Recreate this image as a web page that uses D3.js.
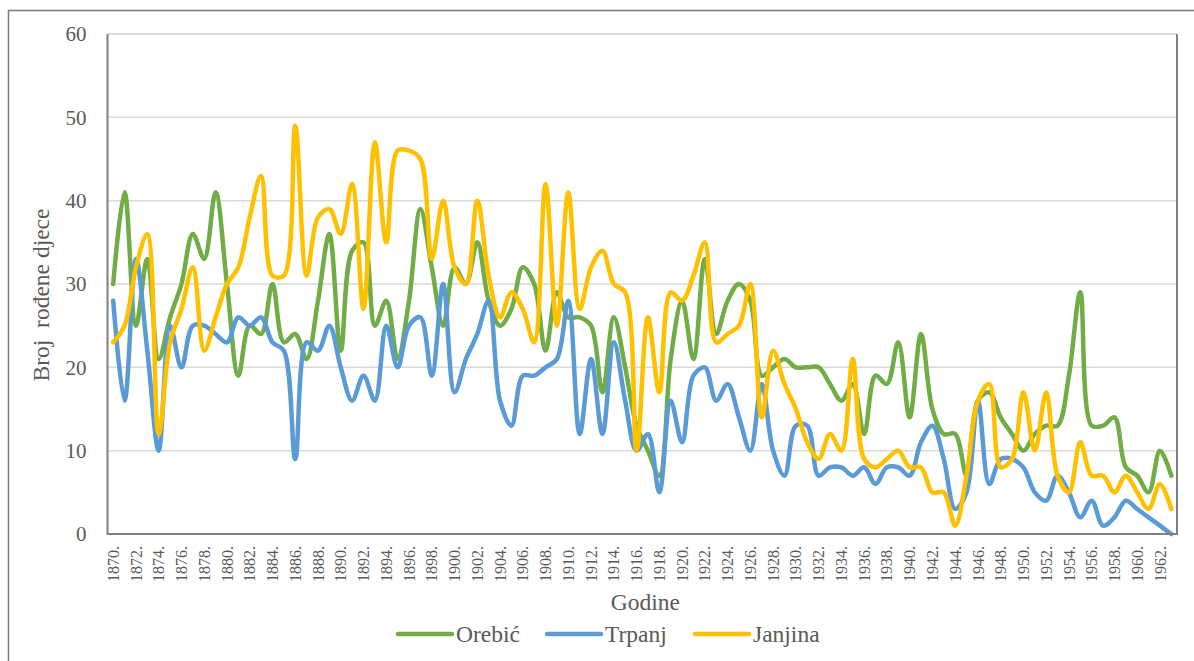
<!DOCTYPE html>
<html lang="hr">
  <head>
    <meta charset="utf-8" />
    <title>Broj rođene djece</title>
    <style>
      body { margin: 0; background: #fff; }
      text { font-family: "Liberation Serif", "Times New Roman", serif; fill: #595959; }
    </style>
  </head>
  <body>
    <svg id="viz"></svg>
    <script src="https://d3js.org/d3.v7.min.js"></script>
    <script>
        var width = 1194;
        var height = 661;

        // godine 1870. - 1963.
        var years = d3.range(1870, 1964);
        var yTicks = [0, 10, 20, 30, 40, 50, 60];

        var orebic = [30, 41, 25, 33, 21, 26, 30, 36, 33, 41,
                      30, 19, 25, 24, 30, 23, 24, 21, 28, 36,
                      22, 34, 35, 25, 28, 21, 28, 39, 32, 25,
                      32, 30, 35, 28, 25, 27, 32, 30, 22, 29,
                      26, 26, 25, 17, 26, 20, 13, 10, 7, 21,
                      28, 21, 33, 24, 28, 30, 28, 19, 20, 21,
                      20, 20, 20, 18, 16, 18, 12, 19, 18, 23,
                      14, 24, 15, 12, 12, 7, 16, 17, 14, 12,
                      10, 12, 13, 13, 19, 29, 13, 13, 14, 8,
                      7, 5, 10, 7];
        var trpanj = [28, 16, 33, 22, 10, 25, 20, 25, 25, 24,
                      23, 26, 25, 26, 23, 22, 9, 23, 22, 25,
                      20, 16, 19, 16, 25, 20, 25, 26, 19, 30,
                      17, 21, 24, 28, 16, 13, 19, 19, 20, 21,
                      28, 12, 21, 12, 23, 16, 10, 12, 5, 16,
                      11, 19, 20, 16, 18, 14, 10, 18, 10, 7,
                      13, 13, 7, 8, 8, 7, 8, 6, 8, 8,
                      7, 11, 13, 9, 3, 5, 16, 6, 9, 9,
                      8, 5, 4, 7, 5, 2, 4, 1, 2, 4,
                      3, 2, 1, 0];
        var janjina = [23, 25, 32, 36, 12, 23, 27, 32, 22, 26,
                       30, 32, 38, 43, 31, 31, 49, 31, 38, 39,
                       36, 42, 27, 47, 35, 46, 46, 45, 33, 40,
                       32, 30, 40, 31, 26, 29, 27, 23, 42, 25,
                       41, 27, 32, 34, 30, 29, 10, 26, 17, 29,
                       28, 31, 35, 23, 24, 25, 30, 14, 22, 18,
                       15, 11, 9, 12, 10, 21, 9, 8, 9, 10,
                       8, 8, 5, 5, 1, 7, 16, 18, 8, 9,
                       17, 10, 17, 7, 5, 11, 7, 7, 5, 7,
                       5, 3, 6, 3];

        var series = [
            {name: "Orebić", color: "#70AD47", values: orebic},
            {name: "Trpanj", color: "#5B9BD5", values: trpanj},
            {name: "Janjina", color: "#FFC000", values: janjina}
        ];

        var plot = {left: 107.5, top: 34, right: 1177, bottom: 534};

        var svg = d3.select("#viz")
            .attr("width", width)
            .attr("height", height);

        // okvir grafikona
        svg.append("rect")
            .attr("x", 8.5).attr("y", 10.5)
            .attr("width", 1200).attr("height", 700)
            .attr("fill", "#fff")
            .attr("stroke", "#7a7a7a")
            .attr("stroke-width", 1.5);

        var x = d3.scaleBand()
            .domain(years)
            .range([plot.left, plot.right])
            .padding(0);

        var y = d3.scaleLinear()
            .domain([0, 60])
            .range([plot.bottom, plot.top]);

        function cx(d) { return x(d) + x.bandwidth() / 2; }

        // mreža
        svg.append("g").attr("class", "grid")
            .selectAll("line")
            .data(yTicks.filter(function(t) { return t > 0; }))
            .enter()
            .append("line")
            .attr("x1", plot.left).attr("x2", plot.right)
            .attr("y1", function(d) { return y(d); })
            .attr("y2", function(d) { return y(d); })
            .attr("stroke", "#d9d9d9")
            .attr("stroke-width", 1.5);

        // os y
        var yAxis = svg.append("g")
            .attr("transform", "translate(" + plot.left + ",0)")
            .call(d3.axisLeft(y).tickValues(yTicks).tickSize(0).tickPadding(21));
        yAxis.select(".domain").remove();
        yAxis.selectAll("text")
            .style("font-size", "21px")
            .attr("fill", "#595959");

        // os x
        var xAxis = svg.append("g")
            .attr("transform", "translate(0," + plot.bottom + ")")
            .call(d3.axisBottom(x)
                .tickValues(years.filter(function(d) { return d % 2 == 0; }))
                .tickFormat(function(d) { return d + "."; })
                .tickSize(0));
        xAxis.select(".domain").remove();
        xAxis.selectAll("text")
            .style("font-size", "16px")
            .attr("fill", "#595959")
            .attr("text-anchor", "end")
            .attr("transform", "rotate(-90)")
            .attr("x", -12)
            .attr("y", 0)
            .attr("dy", "0.35em");

        // linije
        var line = d3.line()
            .x(function(d, i) { return cx(years[i]); })
            .y(function(d) { return y(d); })
            .curve(d3.curveCatmullRom.alpha(0.5));

        svg.append("g").attr("class", "lines")
            .selectAll("path")
            .data(series)
            .enter()
            .append("path")
            .attr("d", function(s) { return line(s.values); })
            .attr("fill", "none")
            .attr("stroke", function(s) { return s.color; })
            .attr("stroke-width", 4.5)
            .attr("stroke-linejoin", "round")
            .attr("stroke-linecap", "round");

        // okvir područja crtanja
        svg.append("line")
            .attr("x1", plot.left).attr("x2", plot.right)
            .attr("y1", plot.top).attr("y2", plot.top)
            .attr("stroke", "#d9d9d9").attr("stroke-width", 1.5);
        svg.append("path")
            .attr("d", "M" + plot.left + "," + plot.top + "V" + plot.bottom + "H" + plot.right + "V" + plot.top)
            .attr("fill", "none")
            .attr("stroke", "#7f7f7f")
            .attr("stroke-width", 2);

        // naslovi osi
        svg.append("text")
            .attr("transform", "translate(41," + ((plot.top + plot.bottom) / 2 + 11) + ") rotate(-90)")
            .attr("text-anchor", "middle")
            .attr("dy", "0.35em")
            .attr("xml:space", "preserve")
            .style("white-space", "pre")
            .style("font-size", "23.5px")
            .text("Broj  rođene djece");

        svg.append("text")
            .attr("x", (plot.left + plot.right) / 2 + 3)
            .attr("y", 610)
            .attr("text-anchor", "middle")
            .style("font-size", "23.5px")
            .text("Godine");

        // legenda
        var legendX = [398, 547, 695];
        var legend = svg.append("g").attr("class", "legend")
            .selectAll("g")
            .data(series)
            .enter()
            .append("g")
            .attr("transform", function(d, i) { return "translate(" + legendX[i] + ",634)"; });
        legend.append("line")
            .attr("x1", 0).attr("x2", 54)
            .attr("stroke", function(d) { return d.color; })
            .attr("stroke-width", 4.5)
            .attr("stroke-linecap", "round");
        legend.append("text")
            .attr("x", 58)
            .attr("y", 8)
            .style("font-size", "23.5px")
            .text(function(d) { return d.name; });
    </script>
  </body>
</html>
